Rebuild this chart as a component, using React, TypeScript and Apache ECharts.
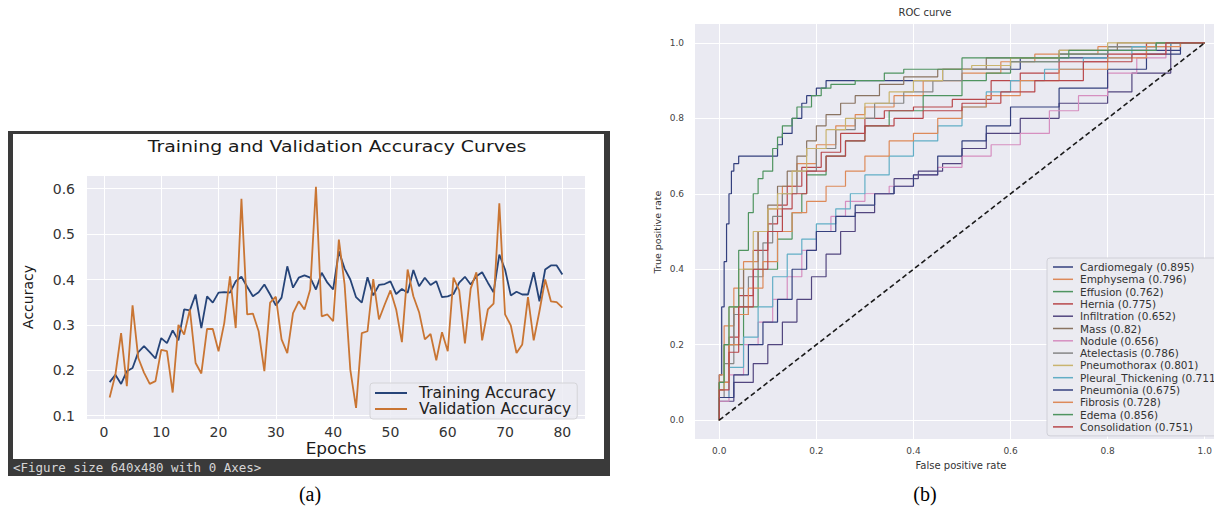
import React, { useEffect, useRef } from "react";
import * as echarts from "echarts";

// ---------- (a) accuracy curves ----------
const trainAcc = [
  0.174, 0.19, 0.17, 0.198, 0.205, 0.24, 0.253, 0.24, 0.226, 0.271,
  0.26, 0.288, 0.266, 0.334, 0.332, 0.367, 0.293, 0.363, 0.349, 0.371,
  0.372, 0.371, 0.396, 0.406, 0.384, 0.363, 0.372, 0.389, 0.367, 0.343,
  0.36, 0.429, 0.382, 0.404, 0.409, 0.404, 0.378, 0.415, 0.393, 0.378,
  0.462, 0.424, 0.4, 0.361, 0.349, 0.405, 0.365, 0.388, 0.39, 0.396,
  0.368, 0.379, 0.371, 0.421, 0.385, 0.404, 0.388, 0.396, 0.361, 0.363,
  0.368, 0.393, 0.406, 0.389, 0.407, 0.416, 0.393, 0.372, 0.455, 0.422,
  0.365, 0.373, 0.367, 0.367, 0.416, 0.352, 0.422, 0.431, 0.431, 0.411,
];
const valAcc = [
  0.14, 0.19, 0.282, 0.165, 0.343, 0.227, 0.195, 0.17, 0.176, 0.245,
  0.242, 0.151, 0.3, 0.279, 0.334, 0.216, 0.193, 0.291, 0.291, 0.242,
  0.304, 0.407, 0.293, 0.578, 0.323, 0.325, 0.286, 0.198, 0.349, 0.362,
  0.268, 0.238, 0.326, 0.352, 0.334, 0.378, 0.604, 0.319, 0.323, 0.308,
  0.488, 0.389, 0.201, 0.117, 0.282, 0.286, 0.401, 0.312, 0.345, 0.376,
  0.334, 0.262, 0.422, 0.363, 0.328, 0.268, 0.28, 0.222, 0.284, 0.242,
  0.404, 0.376, 0.259, 0.38, 0.416, 0.266, 0.334, 0.347, 0.568, 0.323,
  0.299, 0.238, 0.257, 0.361, 0.266, 0.33, 0.4, 0.352, 0.35, 0.338,
];
const epochTicks = [0, 10, 20, 30, 40, 50, 60, 70, 80];
const accTicks = [0.1, 0.2, 0.3, 0.4, 0.5, 0.6];

// ---------- (b) ROC curves (fpr, tpr) ----------
const rocTicks = [0, 0.2, 0.4, 0.6, 0.8, 1.0];
const rocNames = [
  "Cardiomegaly", "Emphysema", "Effusion", "Hernia", "Infiltration", "Mass", "Nodule",
  "Atelectasis", "Pneumothorax", "Pleural_Thickening", "Pneumonia", "Fibrosis", "Edema", "Consolidation",
];
const rocAuc = ["0.895", "0.796", "0.762", "0.775", "0.652", "0.82", "0.656", "0.786", "0.801", "0.711", "0.675", "0.728", "0.856", "0.751"];

const cardiomegaly = [[0,0],[0.005,0.12],[0.01,0.3],[0.015,0.42],[0.02,0.52],[0.025,0.6],[0.03,0.66],[0.04,0.68],[0.07,0.7],[0.12,0.7],[0.13,0.73],[0.15,0.76],[0.17,0.8],[0.18,0.84],[0.2,0.86],[0.22,0.88],[0.27,0.9],[0.46,0.9],[0.47,0.93],[0.62,0.93],[0.64,0.96],[0.8,0.96],[0.82,0.98],[0.95,0.98],[0.96,1],[1,1]];
const emphysema = [[0,0],[0.01,0.12],[0.03,0.25],[0.05,0.35],[0.08,0.42],[0.1,0.5],[0.13,0.56],[0.16,0.62],[0.2,0.68],[0.24,0.73],[0.28,0.78],[0.3,0.81],[0.36,0.83],[0.42,0.86],[0.5,0.9],[0.58,0.92],[0.65,0.95],[0.78,0.97],[0.88,0.99],[0.95,1],[1,1]];
const effusion = [[0,0],[0.02,0.1],[0.05,0.2],[0.08,0.3],[0.12,0.4],[0.15,0.48],[0.17,0.55],[0.18,0.6],[0.22,0.65],[0.26,0.7],[0.3,0.74],[0.35,0.78],[0.42,0.82],[0.5,0.86],[0.55,0.9],[0.6,0.92],[0.7,0.95],[0.8,0.97],[0.9,0.99],[0.95,1],[1,1]];
const hernia = [[0,0],[0.02,0.1],[0.04,0.22],[0.07,0.33],[0.1,0.45],[0.12,0.52],[0.14,0.57],[0.17,0.62],[0.21,0.67],[0.25,0.71],[0.3,0.76],[0.34,0.8],[0.4,0.82],[0.48,0.83],[0.56,0.85],[0.62,0.9],[0.7,0.92],[0.8,0.95],[0.88,0.97],[0.95,1],[1,1]];
const infiltration = [[0,0],[0.03,0.05],[0.07,0.1],[0.1,0.15],[0.13,0.2],[0.16,0.26],[0.19,0.32],[0.22,0.38],[0.25,0.44],[0.28,0.5],[0.32,0.55],[0.36,0.6],[0.41,0.64],[0.46,0.66],[0.5,0.68],[0.55,0.72],[0.62,0.76],[0.7,0.8],[0.8,0.84],[0.85,0.87],[0.93,0.92],[0.94,1],[1,1]];
const mass = [[0,0],[0.01,0.08],[0.03,0.2],[0.05,0.3],[0.08,0.4],[0.1,0.5],[0.12,0.57],[0.14,0.62],[0.16,0.66],[0.18,0.7],[0.2,0.74],[0.22,0.78],[0.25,0.81],[0.28,0.84],[0.33,0.86],[0.38,0.89],[0.45,0.91],[0.55,0.93],[0.7,0.96],[0.82,0.98],[0.92,1],[1,1]];
const nodule = [[0,0],[0.02,0.05],[0.05,0.12],[0.08,0.2],[0.11,0.26],[0.14,0.32],[0.17,0.38],[0.2,0.45],[0.23,0.5],[0.26,0.54],[0.3,0.58],[0.35,0.6],[0.4,0.62],[0.45,0.65],[0.5,0.67],[0.56,0.7],[0.62,0.73],[0.68,0.76],[0.74,0.82],[0.8,0.86],[0.86,0.92],[0.92,0.96],[1,1]];
const atelectasis = [[0,0],[0.01,0.06],[0.03,0.15],[0.06,0.28],[0.09,0.38],[0.11,0.47],[0.13,0.54],[0.16,0.6],[0.2,0.66],[0.24,0.72],[0.28,0.77],[0.32,0.8],[0.38,0.84],[0.44,0.87],[0.5,0.9],[0.6,0.93],[0.7,0.95],[0.8,0.97],[0.9,0.99],[0.96,1],[1,1]];
const pneumothorax = [[0,0],[0.01,0.08],[0.02,0.2],[0.04,0.3],[0.07,0.4],[0.1,0.5],[0.12,0.56],[0.15,0.6],[0.18,0.66],[0.22,0.72],[0.26,0.77],[0.3,0.8],[0.35,0.84],[0.4,0.87],[0.46,0.9],[0.52,0.93],[0.6,0.94],[0.7,0.96],[0.8,0.98],[0.9,1],[1,1]];
const pleuralThickening = [[0,0],[0.02,0.06],[0.05,0.14],[0.08,0.22],[0.11,0.3],[0.14,0.38],[0.17,0.44],[0.2,0.48],[0.24,0.52],[0.27,0.56],[0.3,0.6],[0.35,0.65],[0.4,0.7],[0.45,0.74],[0.5,0.78],[0.55,0.83],[0.6,0.87],[0.67,0.9],[0.75,0.93],[0.85,0.96],[0.93,0.99],[1,1]];
const pneumonia = [[0,0],[0.03,0.06],[0.06,0.12],[0.09,0.2],[0.12,0.26],[0.15,0.32],[0.18,0.4],[0.2,0.45],[0.24,0.5],[0.28,0.54],[0.32,0.57],[0.36,0.6],[0.4,0.62],[0.45,0.65],[0.5,0.7],[0.55,0.74],[0.6,0.78],[0.7,0.83],[0.8,0.88],[0.88,0.93],[0.95,0.97],[1,1]];
const fibrosis = [[0,0],[0.02,0.1],[0.04,0.2],[0.06,0.28],[0.09,0.35],[0.12,0.42],[0.15,0.5],[0.18,0.55],[0.22,0.58],[0.26,0.62],[0.3,0.66],[0.35,0.7],[0.4,0.74],[0.45,0.76],[0.5,0.8],[0.55,0.83],[0.62,0.86],[0.7,0.9],[0.8,0.93],[0.88,0.96],[0.95,0.99],[1,1]];
const edema = [[0,0],[0.01,0.1],[0.02,0.2],[0.04,0.3],[0.06,0.45],[0.07,0.55],[0.08,0.6],[0.09,0.64],[0.11,0.66],[0.12,0.72],[0.13,0.75],[0.15,0.78],[0.16,0.8],[0.19,0.83],[0.21,0.86],[0.23,0.88],[0.28,0.89],[0.34,0.9],[0.38,0.92],[0.5,0.93],[0.6,0.96],[0.72,0.96],[0.74,0.98],[0.9,0.98],[0.92,1],[1,1]];
const consolidation = [[0,0],[0.02,0.08],[0.04,0.18],[0.07,0.3],[0.1,0.4],[0.13,0.5],[0.15,0.56],[0.18,0.6],[0.22,0.66],[0.26,0.7],[0.3,0.74],[0.36,0.78],[0.42,0.8],[0.5,0.82],[0.58,0.84],[0.65,0.87],[0.75,0.9],[0.85,0.95],[0.92,0.97],[0.98,1],[1,1]];
const rocCurves = [cardiomegaly, emphysema, effusion, hernia, infiltration, mass, nodule, atelectasis, pneumothorax, pleuralThickening, pneumonia, fibrosis, edema, consolidation];
const chanceLine = [[0, 0], [1, 1]];

const rocColors = ["#34407e", "#dd8a5a", "#4f9460", "#b8474b", "#52467f", "#8a7462", "#d68fc0", "#868686", "#c9b46f", "#62aec6", "#34407e", "#dd8a5a", "#4f9460", "#b8474b"];

const FONT = "DejaVu Sans";

export default function App() {
  const ref = useRef<HTMLDivElement>(null);
  useEffect(() => {
    if (!ref.current) return;
    const chart = echarts.init(ref.current, undefined, { renderer: "svg" });
    const rocSeries = rocCurves.map((c, i) => ({
      name: `${rocNames[i]} (${rocAuc[i]})`,
      type: "line",
      xAxisIndex: 1,
      yAxisIndex: 1,
      data: c,
      step: "start",
      showSymbol: false,
      symbol: "none",
      lineStyle: { color: rocColors[i], width: 1.2 },
      itemStyle: { color: rocColors[i] },
      z: 3,
    }));
    const white = { show: true, lineStyle: { color: "#ffffff", width: 1 } };
    chart.setOption({
      animation: false,
      backgroundColor: "#ffffff",
      grid: [
        { left: 87, top: 176, width: 498, height: 243, show: true, backgroundColor: "#eaeaf2", borderWidth: 0 },
        { left: 695, top: 24, width: 534, height: 415, show: true, backgroundColor: "#eaeaf2", borderWidth: 0 },
      ],
      xAxis: [
        {
          type: "value", gridIndex: 0, min: -2.95, max: 83.95,
          axisLine: { show: false }, axisTick: { show: false, customValues: epochTicks },
          axisLabel: { customValues: epochTicks, fontSize: 14, color: "#333", margin: 6, fontFamily: FONT },
          splitLine: white,
        },
        {
          type: "value", gridIndex: 1, min: -0.05, max: 1.05,
          axisLine: { show: false }, axisTick: { show: false, customValues: rocTicks },
          axisLabel: { customValues: rocTicks, fontSize: 9, color: "#444", margin: 7, fontFamily: FONT, formatter: (v: number) => v.toFixed(1) },
          splitLine: white,
        },
      ],
      yAxis: [
        {
          type: "value", gridIndex: 0, min: 0.0927, max: 0.628,
          axisLine: { show: false }, axisTick: { show: false, customValues: accTicks },
          axisLabel: { customValues: accTicks, fontSize: 14, color: "#333", margin: 12, fontFamily: FONT, formatter: (v: number) => v.toFixed(1) },
          splitLine: white,
        },
        {
          type: "value", gridIndex: 1, min: -0.05, max: 1.05,
          axisLine: { show: false }, axisTick: { show: false, customValues: rocTicks },
          axisLabel: { customValues: rocTicks, fontSize: 9, color: "#444", margin: 11, fontFamily: FONT, formatter: (v: number) => v.toFixed(1) },
          splitLine: white,
        },
      ],
      legend: [
        {
          data: ["Training Accuracy", "Validation Accuracy"],
          orient: "vertical", left: 370, top: 383,
          icon: "rect", itemWidth: 32, itemHeight: 2, itemGap: 0,
          padding: [2, 6, 2, 5],
          backgroundColor: "rgba(236,236,243,0.85)", borderColor: "#d4d4d8", borderWidth: 1, borderRadius: 3,
          textStyle: { fontSize: 15.5, color: "#222", fontFamily: FONT, lineHeight: 14.5, padding: [0, 0, 0, 7] },
        },
        {
          data: rocSeries.map((s) => s.name),
          orient: "vertical", left: 1047, top: 258,
          icon: "rect", itemWidth: 20, itemHeight: 1.5, itemGap: 0.3,
          padding: [3, 4, 3, 6],
          backgroundColor: "#ebebf1", borderColor: "#d0d0d8", borderWidth: 1, borderRadius: 3,
          textStyle: { fontSize: 10.5, color: "#333", fontFamily: FONT, lineHeight: 12, padding: [0, 0, 0, 2] },
        },
      ],
      graphic: [
        { type: "rect", z: -10, shape: { x: 8, y: 131, width: 602, height: 345 }, style: { fill: "#3a3a3a" } },
        { type: "rect", z: -9, shape: { x: 13, y: 134, width: 591, height: 325 }, style: { fill: "#ffffff" } },
        { type: "text", x: 13, y: 467, style: { text: "<Figure size 640x480 with 0 Axes>", fill: "#d6d6d6", fontSize: 12.5, fontFamily: "DejaVu Sans Mono", verticalAlign: "middle" } },
        { type: "text", x: 337, y: 147, scaleX: 1.18, style: { text: "Training and Validation Accuracy Curves", fill: "#1a1a1a", fontSize: 16, fontFamily: FONT, align: "center", verticalAlign: "middle" } },
        { type: "text", x: 336, y: 449, scaleX: 1.06, style: { text: "Epochs", fill: "#1a1a1a", fontSize: 16, fontFamily: FONT, align: "center", verticalAlign: "middle" } },
        { type: "text", x: 28, y: 297, rotation: Math.PI / 2, style: { text: "Accuracy", fill: "#1a1a1a", fontSize: 14, fontFamily: FONT, align: "center", verticalAlign: "middle" } },
        { type: "text", x: 925, y: 12, style: { text: "ROC curve", fill: "#333", fontSize: 10, fontFamily: FONT, align: "center", verticalAlign: "middle" } },
        { type: "text", x: 657, y: 232, rotation: Math.PI / 2, style: { text: "True positive rate", fill: "#333", fontSize: 9.5, fontFamily: FONT, align: "center", verticalAlign: "middle" } },
        { type: "text", x: 961, y: 465, style: { text: "False positive rate", fill: "#333", fontSize: 10, fontFamily: FONT, align: "center", verticalAlign: "middle" } },
        { type: "text", x: 310, y: 494, style: { text: "(a)", fill: "#000", fontSize: 20, fontFamily: "Liberation Serif", align: "center", verticalAlign: "middle" } },
        { type: "text", x: 925, y: 494, style: { text: "(b)", fill: "#000", fontSize: 20, fontFamily: "Liberation Serif", align: "center", verticalAlign: "middle" } },
        { type: "rect", z: 100, shape: { x: 1214, y: 0, width: 30, height: 508 }, style: { fill: "#ffffff" } },
      ],
      series: [
        {
          name: "Training Accuracy", type: "line", xAxisIndex: 0, yAxisIndex: 0,
          data: trainAcc.map((v, i) => [i + 1, v]), showSymbol: false, symbol: "none",
          lineStyle: { color: "#264478", width: 1.8 }, itemStyle: { color: "#264478" }, z: 3,
        },
        {
          name: "Validation Accuracy", type: "line", xAxisIndex: 0, yAxisIndex: 0,
          data: valAcc.map((v, i) => [i + 1, v]), showSymbol: false, symbol: "none",
          lineStyle: { color: "#c97533", width: 1.8 }, itemStyle: { color: "#c97533" }, z: 3,
        },
        ...rocSeries,
        {
          name: "chance", type: "line", xAxisIndex: 1, yAxisIndex: 1, data: chanceLine,
          showSymbol: false, symbol: "none", z: 4,
          lineStyle: { color: "#1a1a1a", width: 1.6, type: [5, 3] },
        },
      ],
    });
    return () => chart.dispose();
  }, []);
  return <div ref={ref} style={{ position: "fixed", left: 0, top: 0, width: 1231, height: 508 }} />;
}
